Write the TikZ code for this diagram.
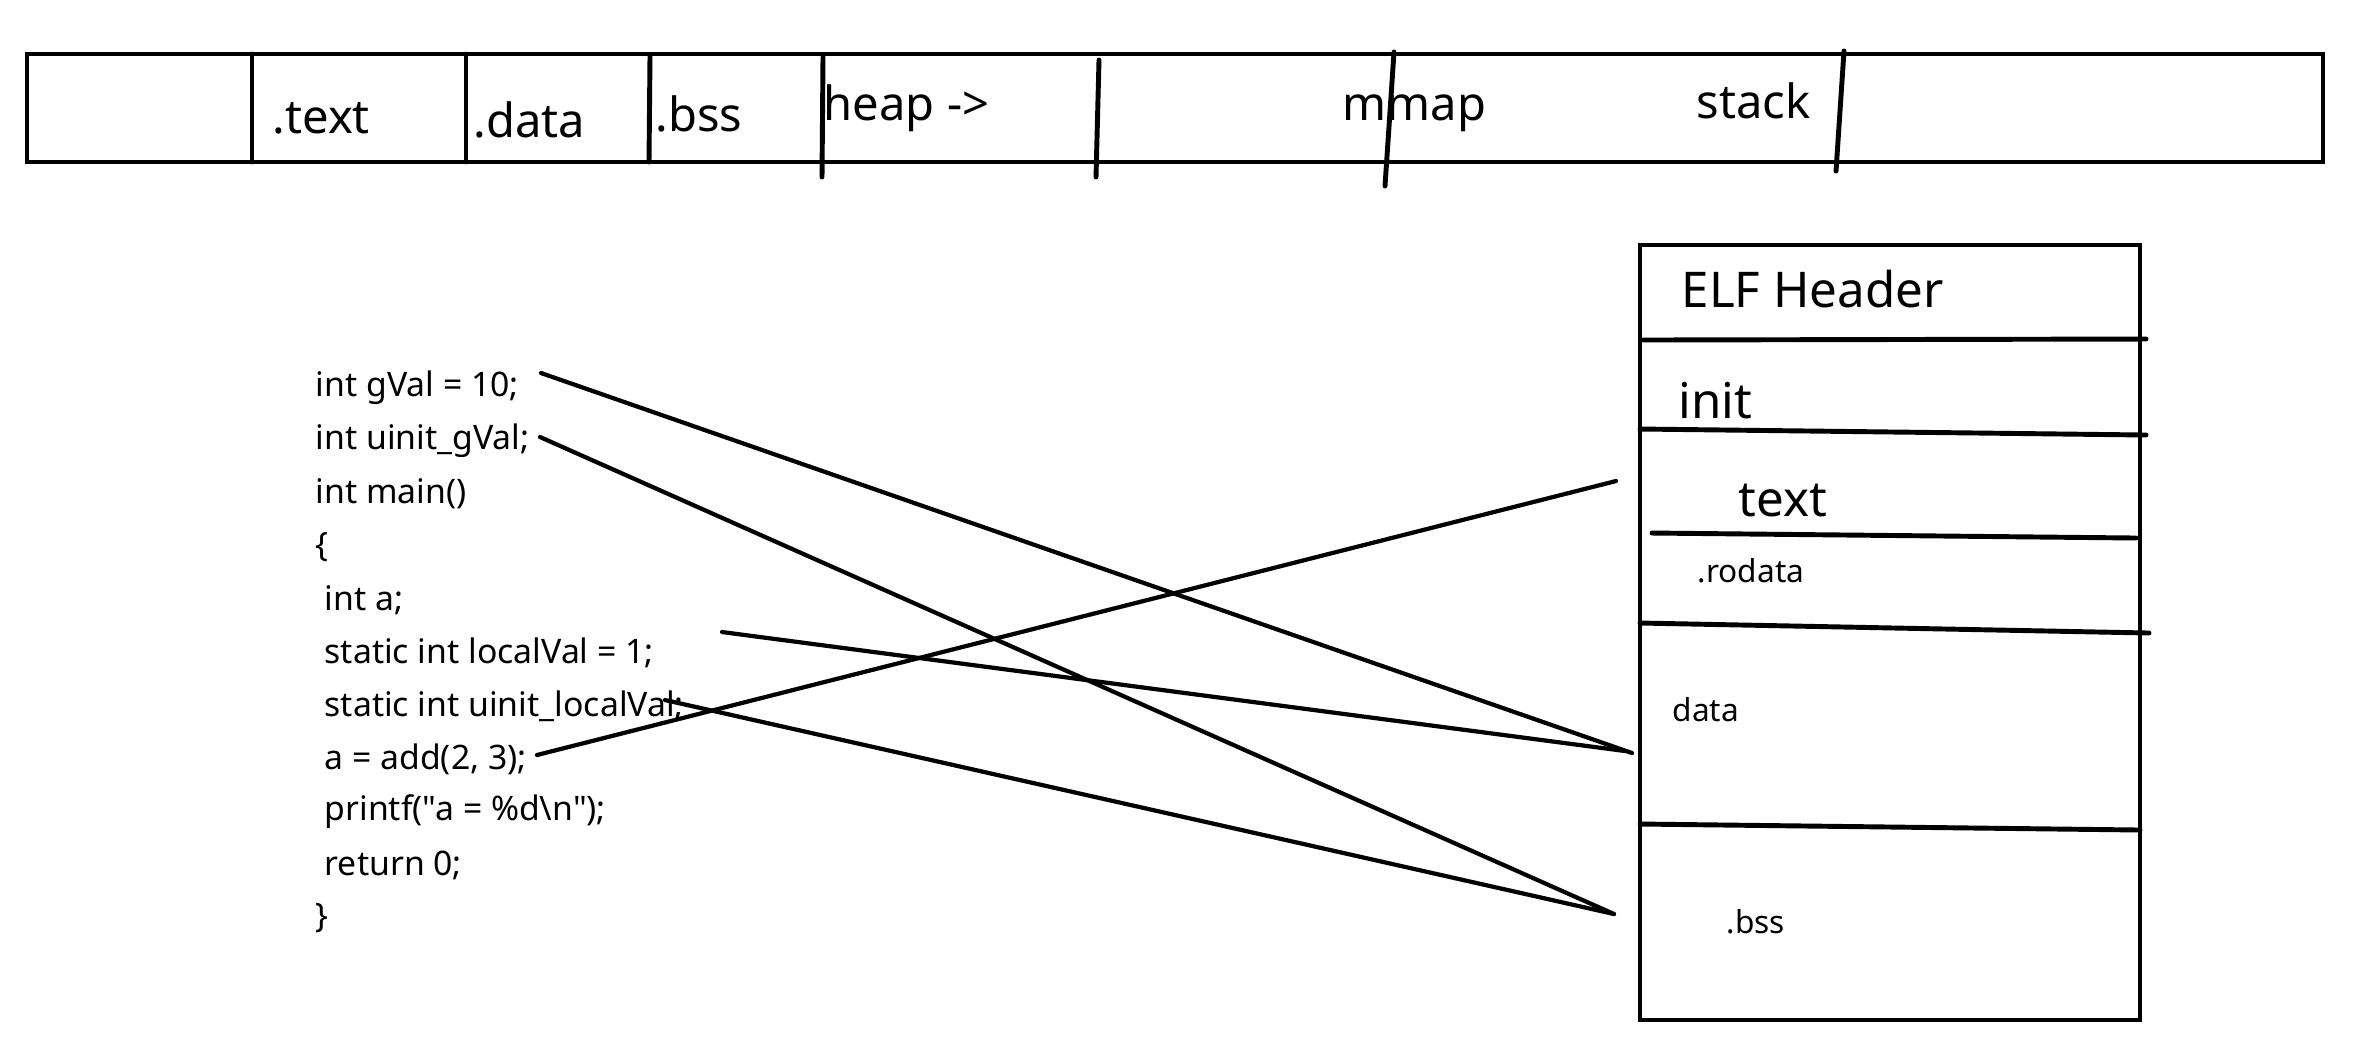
\documentclass[tikz,border=0pt]{standalone}
\usepackage{fontspec}
\setmainfont{Noto Sans}
\newfontfamily\codefont{Noto Sans}
\begin{document}
\begin{tikzpicture}[x=0.01cm,y=-0.01cm,
  thick line/.style={line width=1.4pt,line cap=round},
  conn/.style={line width=1.2pt,line cap=round},
  codetxt/.style={anchor=west,inner sep=0pt,font=\codefont\fontsize{9.6pt}{11pt}\selectfont},
  bigtxt/.style={anchor=west,inner sep=0pt,font=\fontsize{13.4pt}{15pt}\selectfont},
  smalltxt/.style={anchor=west,inner sep=0pt,font=\fontsize{9pt}{11pt}\selectfont}]
\useasboundingbox (0,0) rectangle (2370,1050);
\fill[white] (0,0) rectangle (2370,1050);
% top bar
\draw[thick line] (27,54) rectangle (2323,162);
\draw[thick line] (252,54) -- (252,162);
\draw[thick line] (466,54) -- (466,162);
\draw[thick line] (650,56) -- (649,162);
\draw[thick line] (823,57) -- (822,177);
\draw[thick line] (1099,60) -- (1096,177);
\draw[thick line] (1394,52) -- (1385,186);
\draw[thick line] (1844,51) -- (1836,171);
\node[bigtxt] (ltext) at (272,118) {.text};
\node[bigtxt] (ldata) at (473,120) {.data};
\node[bigtxt] (lbss) at (655,114) {.bss};
\node[bigtxt] (lheap) at (823,108) {heap ->};
\node[bigtxt] (lmmap) at (1342,113) {mmap};
\node[bigtxt] (lstack) at (1696,101) {stack};
% ELF box
\draw[thick line] (1640,245) rectangle (2140,1020);
\draw[thick line] (1643,340) -- (2146,339);
\draw[thick line] (1640,429) -- (2146,435);
\draw[thick line] (1652,533) -- (2136,538);
\draw[thick line] (1640,623) -- (2149,633);
\draw[thick line] (1640,824) -- (2140,830);
\node[bigtxt,font=\fontsize{14pt}{16pt}\selectfont] (elf) at (1681,289) {ELF Header};
\node[bigtxt,font=\fontsize{14pt}{16pt}\selectfont] (init) at (1678,401) {init};
\node[bigtxt,font=\fontsize{14pt}{16pt}\selectfont] (etext) at (1738,500) {text};
\node[smalltxt] (rodata) at (1697,571) {.rodata};
\node[smalltxt] (edata) at (1672,710) {data};
\node[smalltxt] (ebss) at (1726,922) {.bss};
% code
\node[codetxt] (c1) at (315,388) {int gVal = 10;};
\node[codetxt] (c2) at (315,441) {int uinit\_gVal;};
\node[codetxt] (c3) at (315,494) {int main()};
\node[codetxt] (c4) at (315,547) {\{};
\node[codetxt] (c5) at (324,600) {int a;};
\node[codetxt] (c6) at (324,653) {static int localVal = 1;};
\node[codetxt] (c7) at (324,706) {static int uinit\_localVal;};
\node[codetxt] (c8) at (324,759) {a = add(2, 3);};
\node[codetxt] (c9) at (324,812) {printf("a = \%d\textbackslash n");};
\node[codetxt] (c10) at (324,865) {return 0;};
\node[codetxt] (c11) at (315,918) {\}};
% connector ends
\coordinate (s1) at (541,373);
\coordinate (s2) at (540,437);
\coordinate (s3) at (722,632);
\coordinate (s4) at (665,700);
\coordinate (s5) at (537,755);
\coordinate (tdata) at (1632,753);
\coordinate (tdata2) at (1625,751);
\coordinate (tbss) at (1614,914);
\coordinate (ttext) at (1616,481);
\draw[conn] (s1) -- (tdata);
\draw[conn] (s2) -- (tbss);
\draw[conn] (s3) -- (tdata2);
\draw[conn] (s4) -- (tbss);
\draw[conn] (s5) -- (ttext);
\end{tikzpicture}
\end{document}
